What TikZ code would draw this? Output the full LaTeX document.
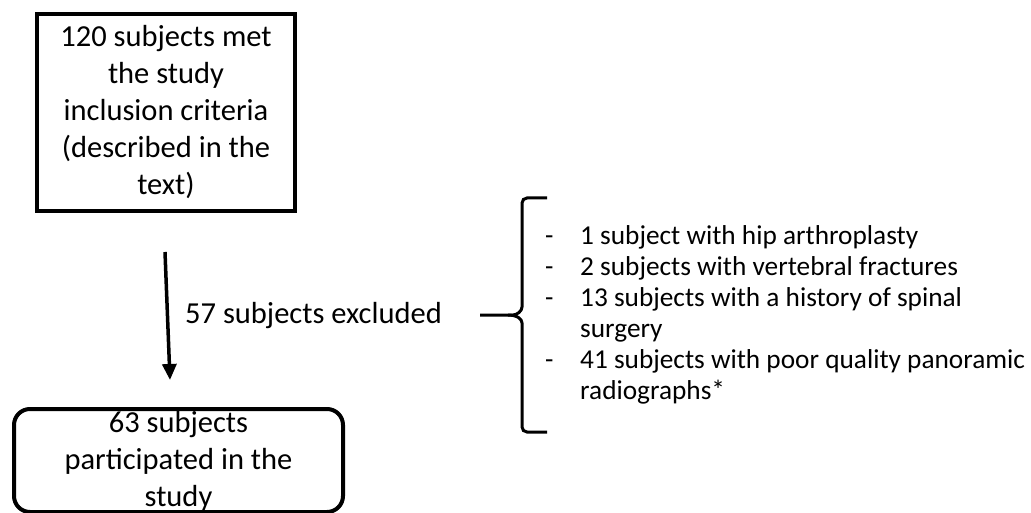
\documentclass[tikz,border=0pt]{standalone}
\usepackage{fontspec}
\setmainfont{Carlito}
\usepackage{tikz}
\usetikzlibrary{arrows.meta}

\begin{document}
\begin{tikzpicture}
[x=1pt,y=-1pt,
 big/.style={font=\fontsize{30.5}{37}\selectfont},
 small/.style={font=\fontsize{27.3}{31}\selectfont},
 sqbox/.style={big,draw,line width=4pt,minimum width=258pt,minimum height=197pt,align=center,inner sep=0pt},
 rdbox/.style={draw,line width=4pt,rounded corners=16pt,minimum width=329pt,minimum height=103pt,inner sep=0pt},
 brace/.style={line width=3pt,rounded corners=5pt}]
\useasboundingbox (0,0) rectangle (1031,513);

\node[sqbox] (incl) at (166,112.5) {120 subjects met\\ the study\\ inclusion criteria\\ (described in the\\ text)};
% bottom edge of this box sits on the page edge
\node[rdbox] (final) at (178.5,460.5) {};
\node[big,align=center,inner sep=0pt] (finaltxt) at (178.5,461) {63 subjects\\ participated in the\\ study};

\draw[line width=3.5pt,-{Triangle[length=16pt,width=14pt]}]
	([xshift=-1pt,yshift=-39pt]incl.south) -- ([xshift=-8.5pt,yshift=27pt]final.north);

\node[big,anchor=west,inner sep=0pt] (excl) at (185,316) {57 subjects excluded};

% brace
\coordinate (tip) at (480,315);
\draw[brace] (547,198) -- (522,198) -- (522,302)
	.. controls (522,311) and (517,315) .. (508,315) -- (tip);
\draw[brace] (547,432) -- (522,432) -- (522,328)
	.. controls (522,319) and (517,315) .. (508,315);

\node[small,anchor=west,align=left,inner sep=0pt] (reasons) at (545,315) {%
\makebox[35pt][l]{-}1 subject with hip arthroplasty\\
\makebox[35pt][l]{-}2 subjects with vertebral fractures\\
\makebox[35pt][l]{-}13 subjects with a history of spinal\\
\hspace*{35pt}surgery\\
\makebox[35pt][l]{-}41 subjects with poor quality panoramic\\
\hspace*{35pt}radiographs*};
\end{tikzpicture}
\end{document}
